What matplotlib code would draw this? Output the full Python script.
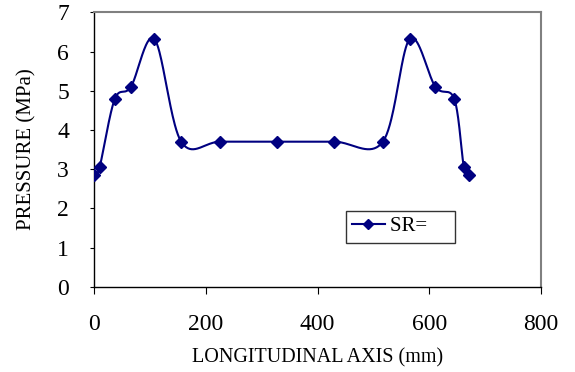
import numpy as np
import matplotlib.pyplot as plt

# ---------------- data ----------------
pos_mm   = [0, 10, 37, 66, 108, 156, 226, 327, 430, 517, 565, 611, 645, 662, 672]
pressure = [2.85, 3.05, 4.78, 5.10, 6.32, 3.70, 3.70, 3.70, 3.70, 3.70, 6.32, 5.10, 4.78, 3.05, 2.85]
series_name = 'SR='
x_ticks = [0, 200, 400, 600, 800]
y_ticks = [0, 1, 2, 3, 4, 5, 6, 7]


# Excel-style smoothed line: Catmull-Rom segments drawn as cubic Beziers
def smooth(x, y, nseg=40):
    p = np.column_stack([x, y]).astype(float)
    p = np.vstack([p[0], p, p[-1]])
    out = []
    t = np.linspace(0, 1, nseg)[:, None]
    for i in range(1, len(p) - 2):
        p0, p1, p2, p3 = p[i - 1], p[i], p[i + 1], p[i + 2]
        c1 = p1 + (p2 - p0) / 6.0
        c2 = p2 - (p3 - p1) / 6.0
        seg = ((1 - t) ** 3) * p1 + 3 * ((1 - t) ** 2) * t * c1 + 3 * (1 - t) * t ** 2 * c2 + t ** 3 * p2
        out.append(seg if i == 1 else seg[1:])
    s = np.vstack(out)
    return s[:, 0], s[:, 1]


plt.rcParams['font.family'] = ['Liberation Serif', 'DejaVu Serif']
navy = '#000080'

fig = plt.figure(figsize=(5.75, 3.72), dpi=100)
ax = fig.add_axes([0.1635, 0.2293, 0.7774, 0.7376])

sx, sy = smooth(pos_mm, pressure)
ax.plot(sx, sy, color=navy, lw=1.5, zorder=2)
ax.plot(pos_mm, pressure, linestyle='none', marker='D', ms=6, color=navy, zorder=3)
# proxy for the legend entry
ax.plot([], [], color=navy, lw=1.5, marker='D', ms=5, label=series_name + '    ')

ax.set_xlim(0, 800)
ax.set_ylim(0, 7)
ax.set_xticks(x_ticks)
ax.set_yticks(y_ticks)
ax.tick_params(axis='both', direction='out', labelsize=17, colors='black')
ax.tick_params(axis='x', length=5, pad=15)
ax.tick_params(axis='y', length=3, pad=15)

for s in ['top', 'right']:
    ax.spines[s].set_color('#808080')
    ax.spines[s].set_linewidth(1.5)
for s in ['left', 'bottom']:
    ax.spines[s].set_color('black')
    ax.spines[s].set_linewidth(1.0)

ax.set_xlabel('LONGITUDINAL AXIS (mm)', fontsize=14.5, labelpad=9)
ax.set_ylabel('PRESSURE (MPa)', fontsize=15, labelpad=15)

leg = ax.legend(loc='upper left', bbox_to_anchor=(0.601, 0.434), bbox_transform=fig.transFigure,
                fontsize=15, frameon=True, fancybox=False, handlelength=1.6,
                borderpad=0.3, handletextpad=0.25, borderaxespad=0)
leg.get_frame().set_edgecolor('black')
leg.get_frame().set_linewidth(1.0)

fig.savefig('out.png', dpi=100)
